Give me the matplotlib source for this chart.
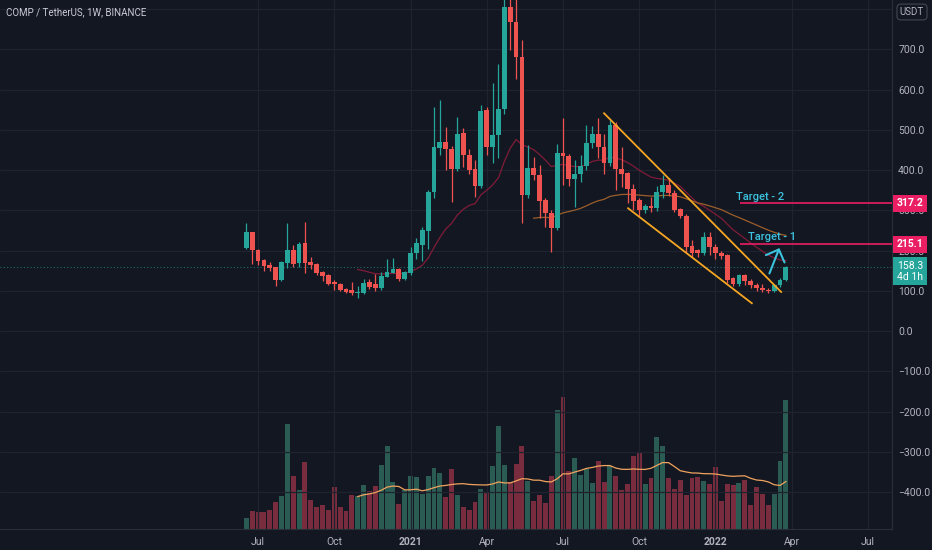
import numpy as np
import pandas as pd
import matplotlib
matplotlib.use("Agg")
import matplotlib.pyplot as plt

# Weekly candles for COMP / TetherUS on Binance, first bar = week of 2020-06-22
first_week = "2020-06-22"

opens = [207, 245, 201, 176, 164, 158, 127, 168, 201, 168, 218, 171, 166, 146, 139, 121, 117, 105, 102, 94,
         95, 122, 117, 108, 135, 145, 153, 129, 145, 193, 214, 249, 346, 455, 470, 452, 402, 491, 437, 402,
         360, 549, 458, 487, 552, 804, 768, 682, 338, 404, 388, 325, 294, 257, 443, 435, 377, 390, 410, 466,
         489, 458, 417, 512, 402, 392, 354, 325, 300, 310, 306, 346, 363, 342, 302, 286, 211, 201, 195, 234,
         209, 193, 190, 131, 118, 139, 125, 114, 108, 102, 100, 114, 127]
highs = [269, 247, 203, 178, 172, 160, 175, 268, 214, 222, 271, 185, 168, 148, 141, 127, 120, 108, 122, 112,
         128, 128, 142, 147, 178, 181, 156, 150, 209, 230, 259, 350, 556, 574, 507, 460, 532, 505, 451, 425,
         561, 556, 617, 663, 850, 911, 860, 723, 462, 433, 412, 330, 300, 464, 528, 440, 425, 437, 512, 509,
         528, 490, 524, 520, 458, 395, 365, 330, 316, 334, 360, 388, 380, 350, 305, 290, 225, 205, 247, 247,
         215, 200, 192, 135, 142, 142, 128, 120, 118, 108, 118, 132, 162]
lows = [205, 166, 164, 150, 149, 112, 125, 156, 158, 158, 145, 155, 140, 125, 115, 102, 100, 95, 90, 82,
        93, 105, 100, 102, 133, 143, 125, 126, 140, 180, 175, 205, 330, 437, 400, 321, 398, 408, 390, 334,
        355, 437, 417, 430, 540, 698, 625, 268, 330, 375, 280, 259, 197, 252, 363, 360, 309, 370, 400, 455,
        429, 390, 410, 350, 358, 317, 300, 286, 292, 295, 298, 330, 335, 295, 280, 197, 185, 183, 190, 189,
        178, 180, 120, 112, 112, 115, 108, 100, 98, 95, 96, 110, 124]
closes = [245, 201, 175, 162, 156, 127, 171, 201, 166, 216, 168, 164, 143, 137, 118, 116, 102, 98, 94, 98,
          120, 110, 108, 137, 147, 154, 129, 147, 195, 218, 251, 346, 458, 470, 452, 402, 489, 437, 400, 360,
          547, 458, 487, 552, 804, 768, 682, 338, 404, 388, 323, 292, 257, 443, 435, 377, 390, 410, 466, 489,
          458, 417, 512, 402, 390, 352, 324, 300, 310, 305, 346, 363, 342, 300, 286, 208, 195, 193, 234, 209,
          195, 187, 127, 118, 139, 125, 114, 108, 102, 100, 114, 127, 158.3]
# Volume in thousand COMP (scale only matters relative to VOL_TOP)
volumes = [11, 18.3, 17.3, 17.3, 19.3, 26.7, 33.3, 105, 53.3, 39.3, 67, 29.3, 22, 24.3, 18.7, 41.7, 21.7, 17.7,
           33.7, 32.7, 44.3, 38.3, 42.7, 63.7, 82.7, 47, 25, 39, 53, 51.7, 35, 53, 60.7, 56.3, 31.7, 60, 34,
           22.3, 19, 26.7, 40, 37.3, 63, 103, 63.7, 47.3, 65, 83.3, 47.7, 27.7, 34.3, 26, 52.7, 118.7, 132,
           58.3, 71, 54.3, 60, 46, 67.7, 46.7, 63.3, 53.3, 39.3, 45.3, 73.3, 76, 45.3, 51, 92, 82.7, 51, 40.3,
           48.7, 33.7, 51, 52, 47.7, 45.3, 61.7, 27.7, 45.3, 44.3, 46, 48.7, 23.7, 41.7, 35.3, 23.7, 35.3,
           67.7, 129.3]
VOL_TOP = 529

last_price = 158.3
time_left = "4d 1h"
target_1 = 215.1
target_2 = 317.2

# User drawings as (bar index, price)
upper_channel = ([61.0, 91.2], [541, 97])
lower_channel = ([65.1, 86.2], [305, 69])
target_start = 84.2
arrow_tail = (89.2, 143)
arrow_tip = (90.9, 206)

BG = "#131722"
GRID = "#1f2330"
TEXT = "#b2b5be"
UP = "#26a69a"
DOWN = "#ef5350"
VOL_UP = "#2b5c53"
VOL_DOWN = "#782c3d"
CYAN = "#3cc2dd"
PINK = "#e91e63"


def ema(values, n):
    """TradingView style EMA: seeded with the SMA of the first n bars."""
    values = np.asarray(values, dtype=float)
    out = np.full(len(values), np.nan)
    out[n - 1] = values[:n].mean()
    a = 2 / (n + 1)
    for k in range(n, len(values)):
        out[k] = a * values[k] + (1 - a) * out[k - 1]
    return out


plt.rcParams['font.family'] = ['Roboto', 'DejaVu Sans']

o = np.array(opens, dtype=float)
h = np.array(highs, dtype=float)
l = np.array(lows, dtype=float)
c = np.array(closes, dtype=float)
v = np.array(volumes, dtype=float)
x = np.arange(len(c))
up = c >= o
candle_colors = np.where(up, UP, DOWN)
vol_colors = np.where(up, VOL_UP, VOL_DOWN)

# Time axis ticks at first bar of each quarter (bars continue into the future)
dates = pd.date_range(first_week, periods=115, freq="W-MON")
tick_idx, tick_lab = [], []
for k, d in enumerate(dates):
    if d.month in (1, 4, 7, 10) and d.day <= 7:
        tick_idx.append(k)
        tick_lab.append(str(d.year) if d.month == 1 else d.strftime("%b"))

fig = plt.figure(figsize=(9.32, 5.5), dpi=100, facecolor=BG)
rect = [0, 21 / 550, 892 / 932, 529 / 550]
axv = fig.add_axes(rect, facecolor=BG)
ax = fig.add_axes(rect, sharex=axv)
axv.set_zorder(0)
ax.set_zorder(1)
ax.patch.set_visible(False)

ax.set_xlim(-42.0, 110.1)
ax.set_ylim(-491.9, 822.4)
axv.set_ylim(0, VOL_TOP)

# Grid lives on the back axes so it stays behind the volume bars
price_ticks = np.arange(-400, 900, 100)
axv.hlines(price_ticks, 0, 1, transform=ax.get_yaxis_transform(), colors=GRID, lw=0.9)
axv.vlines(tick_idx, 0, 1, transform=axv.get_xaxis_transform(), colors=GRID, lw=0.9)

# Volume + its 20 SMA
axv.bar(x, v, width=0.84, color=vol_colors, lw=0)
vol_ma = pd.Series(v).rolling(20).mean()
axv.plot(x, vol_ma, color="#f0a35e", lw=0.9)
axv.axis("off")

# Candles
ax.vlines(x, l, h, colors=candle_colors, lw=0.9, zorder=3)
ax.bar(x, np.maximum(np.abs(c - o), 2.5), bottom=np.minimum(o, c), width=0.82,
       color=candle_colors, lw=0, zorder=4)

# Moving averages
ax.plot(x, ema(c, 20), color="#801c38", lw=0.9, zorder=2)
ax.plot(x, ema(c, 50), color="#9c5e2a", lw=0.9, zorder=2)

# Last price line
ax.axhline(last_price, color=UP, lw=0.8, ls=(0, (1, 2)), alpha=0.6, zorder=1)

# Channel drawn on the chart
ax.plot(*upper_channel, color="#f5a623", lw=1.3, zorder=5)
ax.plot(*lower_channel, color="#f5a623", lw=1.3, zorder=5)

# Targets
xr = ax.get_xlim()[1]
for tgt, name, tx, ty in [(target_2, "Target - 2", 83.5, 333), (target_1, "Target - 1", 85.5, 233.5)]:
    ax.hlines(tgt, target_start, xr, colors=PINK, lw=1.2, zorder=5)
    ax.text(tx, ty, name, color=CYAN, fontsize=8, fontweight="medium", va="center", ha="left", zorder=6)

ax.annotate("", xy=arrow_tip, xytext=arrow_tail,
            arrowprops=dict(arrowstyle="->,head_length=0.72,head_width=0.72", color=CYAN, lw=1.5,
                            shrinkA=0, shrinkB=0, mutation_scale=10), zorder=6)

# Axes styling
for s in ["top", "left"]:
    ax.spines[s].set_visible(False)
for s in ["bottom", "right"]:
    ax.spines[s].set_color("#2a2e39")
ax.yaxis.tick_right()
ax.set_yticks(np.arange(-400, 800, 100))
ax.set_yticklabels([f"{t:.1f}".replace("-", "\u2212") for t in np.arange(-400, 800, 100)])
ax.tick_params(axis="y", length=0, pad=4.5, colors=TEXT, labelsize=7.5)
ax.set_xticks(tick_idx)
ax.set_xticklabels(tick_lab)
ax.tick_params(axis="x", length=0, pad=6, colors=TEXT, labelsize=7.5)
for lab in ax.get_xticklabels():
    if lab.get_text().isdigit():
        lab.set_fontweight("bold")

# Price scale tags (they sit over the 300 / 200 labels, as on the original)
ytr = ax.get_yaxis_transform()
tag_x = 1 + 5 / 892
for tgt in (target_2, target_1):
    ax.text(tag_x, tgt, f"{tgt:.1f}", transform=ytr, color="white", fontsize=7.5, fontweight="bold",
            va="center", ha="left", clip_on=False, zorder=10,
            bbox=dict(boxstyle="square,pad=0.35", fc=PINK, ec="none"))
ax.text(tag_x, 148, f"{last_price:.1f}\n{time_left}", transform=ytr, color="white", fontsize=7.5,
        va="center", ha="left", linespacing=1.1, clip_on=False, zorder=10,
        bbox=dict(boxstyle="square,pad=0.35", fc=UP, ec="none"))

fig.text(6 / 932, 1 - 12 / 550, "COMP / TetherUS, 1W, BINANCE", color="#c9ccd4", fontsize=7,
         va="center")
fig.text(912 / 932, 1 - 12 / 550, "USDT", color=TEXT, fontsize=7, va="center", ha="center",
         bbox=dict(boxstyle="round,pad=0.3,rounding_size=0.4", fc=BG, ec="#434651", lw=0.8))

plt.savefig("out.png", dpi=100, facecolor=BG)
plt.close()
